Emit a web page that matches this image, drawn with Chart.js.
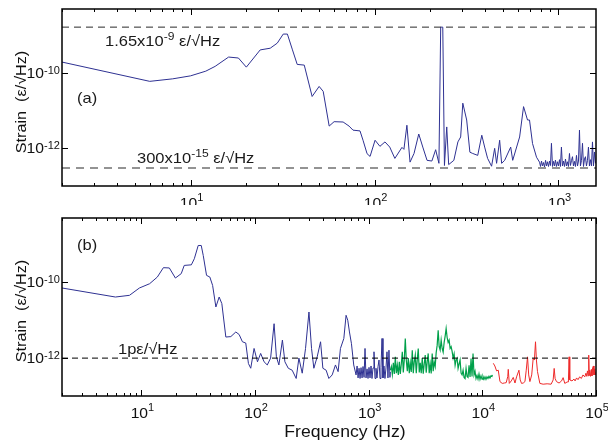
<!DOCTYPE html>
<html>
<head>
<meta charset="utf-8">
<script src="https://cdn.jsdelivr.net/npm/chart.js@4.4.1/dist/chart.umd.min.js"></script>
<style>
  html, body { margin: 0; padding: 0; background: #fff; }
  #wrap { position: relative; width: 608px; height: 442px; }
  canvas { position: absolute; left: 0; }
</style>
</head>
<body>
<div id="wrap">
  <canvas id="panelA" width="608" height="205" style="top:0"></canvas>
  <canvas id="panelB" width="608" height="237" style="top:205px"></canvas>
</div>
<script>
// --- axis ranges / ticks ---
const xRangeA = [2, 1600];
const xRangeB = [2, 100000];
const yRange = [1e-13, 5e-9];
const xTickExpA = [1, 2, 3];
const xTickExpB = [1, 2, 3, 4, 5];
const yTickExp = [-10, -12];

// --- reference levels ---
const levelsA = [1.65e-9, 3e-13];
const levelB = 1e-12;

// --- panel (a) spectrum ---
const freqA = [
  2, 6, 8, 10, 12.1, 13.6, 16.1, 18.2, 20.1, 23.9,
  27.1, 29.6, 31.9, 33.6, 35.7, 38, 41.5, 45.8, 50, 52.6,
  56.7, 60.3, 67.5, 72.7, 76.4, 83.4, 86.6, 91.1, 94.6, 100.7,
  107, 114, 121, 129, 141, 144.5, 150, 156, 164, 174,
  183, 193, 205, 215, 224, 229, 235, 240, 247, 253,
  270, 284, 294, 302, 317, 330, 342, 364, 383, 397,
  412, 433, 450, 461, 479, 491, 510, 550, 564, 615,
  646, 679, 696, 723, 760,
  789, 799, 809, 819, 829, 840, 851, 861, 872, 883,
  894, 905, 916, 928, 940, 951, 963, 975, 988, 1000,
  1013, 1025, 1038, 1051, 1065, 1078, 1092, 1105, 1119, 1133,
  1148, 1162, 1177, 1192, 1207, 1222, 1237, 1253, 1269, 1285,
  1301, 1317, 1334, 1351, 1368, 1385, 1402, 1420, 1438, 1456,
  1474, 1493, 1512, 1531, 1550, 1570, 1590
];
const strainA = [
  1.95e-10, 6.0e-11, 7.0e-11, 8.4e-11, 1.12e-10, 1.5e-10, 2.65e-10, 2.5e-10, 1.43e-10, 4.1e-10,
  4.55e-10, 6.2e-10, 1.08e-9, 1.08e-9, 4.3e-10, 1.69e-10, 1.62e-10, 2.38e-11, 4.4e-11, 3.25e-11,
  3.9e-12, 5.1e-12, 5.0e-12, 3.9e-12, 3.04e-12, 2.9e-12, 1.64e-12, 7.2e-13, 6.1e-13, 1.64e-12,
  1.13e-12, 1.48e-12, 1.08e-12, 5.4e-13, 1.06e-12, 9.4e-13, 4.1e-12, 4.3e-13, 7.3e-13, 2.4e-12,
  1.08e-12, 4.8e-13, 4.6e-13, 9.2e-13, 4.0e-13, 1.65e-9, 1.65e-9, 3.5e-13, 3.7e-12, 3.7e-13,
  4.8e-13, 1.48e-12, 2.0e-12, 1.58e-11, 5.65e-12, 7.9e-13, 7.3e-13, 6.5e-13, 2.23e-12, 1.08e-12,
  5.4e-13, 3.35e-13, 1.0e-12, 4.0e-13, 1.64e-12, 4.0e-13, 4.8e-13, 1.08e-12, 4.8e-13, 2.0e-12,
  1.28e-11, 5.65e-12, 5.65e-12, 1.34e-12, 5.8e-13,
  4.3e-13, 3.3e-13, 4.6e-13, 3.4e-13, 4.2e-13, 3.2e-13, 4.8e-13, 3.4e-13, 4.4e-13, 3.3e-13,
  4.6e-13, 3.5e-13, 1.36e-12, 3.3e-13, 4.5e-13, 3.4e-13, 4.9e-13, 3.3e-13, 4.4e-13, 3.4e-13,
  5.0e-13, 3.3e-13, 1.08e-12, 3.4e-13, 4.6e-13, 3.3e-13, 5.2e-13, 3.4e-13, 4.4e-13, 3.3e-13,
  7.3e-13, 3.5e-13, 4.7e-13, 6.0e-13, 3.4e-13, 4.5e-13, 3.3e-13, 6.5e-13, 3.4e-13, 4.6e-13,
  3.05e-12, 3.4e-13, 4.8e-13, 1.36e-12, 3.3e-13, 5.2e-13, 6.0e-13, 3.4e-13, 4.8e-13, 1.08e-12,
  3.4e-13, 5.0e-13, 3.4e-13, 1.48e-12, 3.4e-13, 8.0e-13, 4.0e-13
];

// --- panel (b) spectrum, three acquisition bands ---
const freqB1 = [
  2, 5.9, 7.85, 9.6, 11.8, 13.8, 15.6, 17.6, 19.9, 22.4,
  23.8, 27.5, 29.2, 31.6, 33.6, 35, 37.4, 40, 42.3, 45.2,
  48.3, 51, 55.3, 61.2, 67.7, 72.4, 77.4, 82.8, 87.4, 91.6,
  98, 105, 112, 120, 128, 137, 147, 154, 162, 174,
  183, 196, 212, 230, 243, 260, 278, 298, 314, 329,
  352, 377, 395, 422, 446, 477, 510, 538, 564, 604,
  632, 654, 677, 705, 738,
  774, 790, 806, 822, 839, 856, 874, 891, 910, 928,
  947, 967, 986, 1006, 1027, 1048, 1069, 1091, 1113, 1136,
  1159, 1183, 1207, 1232, 1257, 1282, 1309, 1335, 1362, 1390,
  1419, 1448, 1477, 1507, 1538, 1550
];
const strainB1 = [
  7.1e-11, 4.1e-11, 4.55e-11, 7.1e-11, 9.2e-11, 1.38e-10, 2.44e-10, 2.4e-10, 1.3e-10, 1.7e-10,
  2.8e-10, 2.9e-10, 4.2e-10, 9.4e-10, 9.4e-10, 5.1e-10, 1.53e-10, 1.38e-10, 8.3e-11, 2.24e-11,
  4.1e-11, 2.75e-11, 3.6e-12, 3.7e-12, 4.9e-12, 4.2e-12, 2.7e-12, 2.5e-12, 7.2e-13, 5.4e-13,
  1.8e-12, 8.0e-13, 1.33e-12, 8.0e-13, 6.6e-13, 1.0e-12, 8.1e-12, 1.08e-12, 6.6e-13, 3.0e-12,
  8.0e-13, 5.4e-13, 4.8e-13, 2.9e-13, 1.0e-12, 4.0e-13, 1.8e-12, 1.65e-11, 1.8e-12, 5.4e-13,
  1.08e-12, 2.7e-12, 5.4e-13, 4.8e-13, 2.9e-13, 3.6e-13, 6.6e-13, 4.4e-13, 1.8e-12, 3.3e-12,
  1.35e-11, 1.0e-11, 4.9e-12, 2.4e-12, 6.6e-13,
  3.6e-13, 6.2e-13, 3.0e-13, 5.4e-13, 2.9e-13, 5.6e-13, 3.0e-13, 6.0e-13, 3.1e-13, 1.8e-12,
  3.0e-13, 5.2e-13, 2.9e-13, 5.7e-13, 3.0e-13, 6.2e-13, 2.9e-13, 5.5e-13, 1.47e-12, 2.9e-13,
  5.4e-13, 3.0e-13, 6.0e-13, 8.9e-13, 2.9e-13, 5.6e-13, 3.3e-12, 3.0e-13, 6.2e-13, 2.9e-13,
  5.5e-13, 1.47e-12, 3.0e-13, 1.62e-12, 3.1e-13, 4.3e-13
];
const freqB2 = [
  1550, 1582, 1614, 1647, 1680, 1715, 1750, 1785, 1822, 1859,
  1897, 1935, 1975, 2015, 2056, 2098, 2141, 2185, 2229, 2275,
  2321, 2368, 2417, 2466, 2516, 2568, 2620, 2673, 2728, 2784,
  2840, 2898, 2957, 3018, 3079, 3142, 3206, 3271, 3338, 3406,
  3476, 3547, 3619, 3693, 3768, 3845, 3923, 4003, 4085, 4168,
  4253, 4340, 4428, 4519, 4611, 4705, 4801, 4899, 4998, 5100,
  5204, 5310, 5419, 5529, 5642, 5757, 5874, 5994, 6116, 6241,
  6368, 6498, 6630, 6766, 6904, 7044, 7188, 7334, 7484, 7636,
  7792, 7951, 8113, 8278, 8447, 8619, 8795, 8975, 9158, 9344,
  9535, 9729, 9928, 10130, 10337, 10548, 10763, 10982, 11206, 11435,
  11668, 11906, 12149, 12250
];
const strainB2 = [
  4.8e-13, 6.0e-13, 3.7e-13, 7.5e-13, 3.8e-13, 1.08e-12, 4.0e-13, 6.5e-13, 3.6e-13, 8.0e-13,
  3.8e-13, 7.0e-13, 1.47e-12, 4.2e-13, 9.0e-13, 3.3e-12, 8.9e-13, 4.5e-13, 1.0e-12, 4.0e-13,
  7.5e-13, 4.3e-13, 1.62e-12, 4.0e-13, 8.0e-13, 1.2e-12, 4.0e-13, 9.0e-13, 1.8e-12, 4.2e-13,
  7.5e-13, 4.0e-13, 1.0e-12, 3.9e-13, 7.0e-13, 1.2e-12, 4.1e-13, 8.0e-13, 1.33e-12, 4.0e-13,
  7.0e-13, 3.95e-13, 1.33e-12, 4.5e-13, 8.0e-13, 6.0e-13, 1.4e-12, 2.2e-12, 5.45e-12, 2.0e-12,
  1.62e-12, 3.0e-12, 1.8e-12, 1.43e-12, 2.6e-12, 3.8e-12, 6.05e-12, 3.5e-12, 2.6e-12, 3.0e-12,
  1.8e-12, 2.0e-12, 1.5e-12, 1.0e-12, 1.3e-12, 6.5e-13, 9.0e-13, 1.0e-12, 5.35e-13, 7.0e-13,
  8.9e-13, 4.0e-13, 3.6e-13, 4.8e-13, 3.1e-13, 2.9e-13, 5.35e-13, 3.3e-13, 3.1e-13, 6.5e-13,
  3.2e-13, 9.8e-13, 3.3e-13, 1.33e-12, 3.6e-13, 4.5e-13, 2.9e-13, 3.5e-13, 2.8e-13, 3.8e-13,
  2.75e-13, 3.4e-13, 2.8e-13, 3.3e-13, 2.75e-13, 3.2e-13, 2.75e-13, 3.2e-13, 2.9e-13, 3.3e-13,
  3.0e-13, 3.4e-13, 3.3e-13, 3.6e-13
];
const freqB3 = [
  12480, 12880, 13340, 13800, 14290, 14960, 15590, 16220, 16740, 16900,
  17260, 17960, 18700, 19370, 20000, 20990, 21530, 22130, 22900, 23700,
  24330, 24970, 25570, 26200, 27180, 28000, 28700, 29360, 29900, 30560,
  32070, 34280, 37150, 40280, 41970, 42850, 43660, 44890, 47320, 49780,
  51380, 53130, 55720, 57150, 57940, 58760, 61510, 64000, 65440, 67500,
  69500, 71800, 74300, 76800, 79600, 81600, 83000, 84100, 85400, 86300,
  87200, 88100, 89500, 91000, 92200, 93300, 94900, 96000, 97500, 98800,
  100000
];
const strainB3 = [
  7.3e-13, 6.2e-13, 4.6e-13, 4.8e-13, 2.4e-13, 2.15e-13, 2.2e-13, 2.25e-13, 3.3e-13, 5.05e-13,
  2.15e-13, 2.5e-13, 3.1e-13, 2.2e-13, 3.2e-13, 4.8e-13, 2.65e-13, 2.15e-13, 2.2e-13, 2.4e-13,
  4.8e-13, 1.08e-12, 3.6e-13, 2.4e-13, 3.6e-13, 9.8e-13, 8.9e-13, 2.7e-12, 8.9e-13, 4.4e-13,
  2.15e-13, 2.05e-13, 2.1e-13, 2.05e-13, 2.65e-13, 5.35e-13, 2.9e-13, 2.4e-13, 2.2e-13, 2.5e-13,
  3.05e-13, 2.15e-13, 2.35e-13, 2.35e-13, 1.08e-12, 2.65e-13, 2.5e-13, 2.8e-13, 2.5e-13, 3.0e-13,
  2.7e-13, 3.2e-13, 2.9e-13, 3.6e-13, 3.2e-13, 4.0e-13, 3.3e-13, 4.6e-13, 3.4e-13, 1.2e-12,
  3.5e-13, 4.8e-13, 3.3e-13, 5.0e-13, 3.4e-13, 5.5e-13, 6.2e-13, 3.6e-13, 5.2e-13, 3.6e-13,
  4.3e-13
];

const FONT = '"Liberation Sans", Arial, Helvetica, sans-serif';
const BLUE = '#2e3192';
const GREEN = '#00a04a';
const RED = '#ee2a2a';

function curve(fs, ss, color, width) {
  return {
    data: fs.map((f, i) => ({ x: f, y: ss[i] })),
    borderColor: color, borderWidth: width,
    pointRadius: 0, tension: 0, fill: false
  };
}

function level(v, range, color, width, dash) {
  return {
    data: [{ x: range[0], y: v }, { x: range[1], y: v }],
    borderColor: color, borderWidth: width, borderDash: dash,
    pointRadius: 0, fill: false
  };
}

// text stretched a little sideways, like the original figure
function stretchText(ctx, str, x, y, size, sx) {
  ctx.save();
  ctx.translate(x, y);
  ctx.scale(sx, 1);
  ctx.font = size + 'px ' + FONT;
  ctx.fillText(str, 0, 0);
  const w = ctx.measureText(str).width * sx;
  ctx.restore();
  return w;
}

function textWidth(ctx, str, size, sx) {
  ctx.font = size + 'px ' + FONT;
  return ctx.measureText(str).width * sx;
}

// pieces: [text, isSuperscript]
function richText(ctx, pieces, x, y, size, supSize, sx) {
  let cx = x;
  pieces.forEach(p => {
    if (p[1]) cx += stretchText(ctx, p[0], cx, y - 6, supSize, sx);
    else cx += stretchText(ctx, p[0], cx, y, size, sx);
  });
}

function decor(cfg) {
  return {
    id: 'decor',
    afterDatasetsDraw(chart) {
      const { ctx, chartArea: a } = chart;
      const x = chart.scales.x, y = chart.scales.y;
      ctx.save();

      // ticks inward
      ctx.strokeStyle = '#000';
      ctx.lineWidth = 1;
      ctx.beginPath();
      const k0 = Math.floor(Math.log10(cfg.xr[0])), k1 = Math.ceil(Math.log10(cfg.xr[1]));
      for (let k = k0; k <= k1; k++) {
        for (let m = 1; m < 10; m++) {
          const v = m * Math.pow(10, k);
          if (v < cfg.xr[0] || v > cfg.xr[1]) continue;
          const px = Math.round(x.getPixelForValue(v)) + 0.5;
          const len = m === 1 ? 6 : 3;
          ctx.moveTo(px, a.bottom); ctx.lineTo(px, a.bottom - len);
          ctx.moveTo(px, a.top); ctx.lineTo(px, a.top + len);
        }
      }
      yTickExp.forEach(e => {
        const py = Math.round(y.getPixelForValue(Math.pow(10, e))) + 0.5;
        ctx.moveTo(a.left, py); ctx.lineTo(a.left + 6, py);
        ctx.moveTo(a.right, py); ctx.lineTo(a.right - 6, py);
      });
      ctx.stroke();

      // frame
      ctx.lineWidth = 1.5;
      ctx.strokeRect(a.left, a.top, a.right - a.left, a.bottom - a.top);

      // tick labels
      ctx.fillStyle = '#111';
      ctx.textBaseline = 'alphabetic';
      ctx.textAlign = 'left';
      cfg.xTicks.forEach(e => {
        const px = x.getPixelForValue(Math.pow(10, e));
        const w1 = textWidth(ctx, '10', 14, 1.12);
        const w2 = textWidth(ctx, String(e), 10.5, 1.05);
        const sx = px - (w1 + w2) / 2 + 1;
        stretchText(ctx, '10', sx, a.bottom + 22, 14, 1.12);
        stretchText(ctx, String(e), sx + w1, a.bottom + 15, 10.5, 1.05);
      });
      yTickExp.forEach(e => {
        const py = y.getPixelForValue(Math.pow(10, e));
        const w1 = textWidth(ctx, '10', 14, 1.12);
        const w2 = textWidth(ctx, String(e), 10.5, 1.05);
        const sx = a.left - 2 - w1 - w2;
        stretchText(ctx, '10', sx, py + 5, 14, 1.12);
        stretchText(ctx, String(e), sx + w1, py + 1, 10.5, 1.05);
      });

      // y axis title
      ctx.save();
      ctx.translate(26, cfg.yTitleY);
      ctx.rotate(-Math.PI / 2);
      ctx.textAlign = 'center';
      ctx.scale(1.08, 1);
      ctx.font = '15px ' + FONT;
      ctx.fillStyle = '#111';
      ctx.fillText('Strain  (ε/√Hz)', 0, 0);
      ctx.restore();

      // annotations
      ctx.fillStyle = '#1a1a1a';
      cfg.notes.forEach(n => richText(ctx, n.pieces, n.x, n.y, 15, 11, 1.1));

      if (cfg.xTitle) {
        ctx.textAlign = 'center';
        ctx.save();
        ctx.translate(cfg.xTitle.x, cfg.xTitle.y);
        ctx.scale(1.1, 1);
        ctx.font = '16px ' + FONT;
        ctx.fillStyle = '#111';
        ctx.fillText('Frequency (Hz)', 0, 0);
        ctx.restore();
      }
      ctx.restore();
    }
  };
}

function baseOptions(xr, pad) {
  return {
    responsive: false,
    animation: false,
    events: [],
    layout: { padding: pad },
    plugins: { legend: { display: false }, tooltip: { enabled: false } },
    scales: {
      x: { type: 'logarithmic', min: xr[0], max: xr[1], display: false },
      y: { type: 'logarithmic', min: yRange[0], max: yRange[1], display: false }
    }
  };
}

new Chart(document.getElementById('panelA'), {
  type: 'line',
  data: {
    datasets: [
      level(levelsA[0], xRangeA, '#2a2a2a', 1, [7, 5]),
      level(levelsA[1], xRangeA, '#707070', 1.5, [8, 6]),
      curve(freqA, strainA, BLUE, 1)
    ]
  },
  options: baseOptions(xRangeA, { left: 62, right: 12, top: 9, bottom: 19 }),
  plugins: [decor({
    xr: xRangeA, xTicks: xTickExpA, yTitleY: 102,
    notes: [
      { pieces: [['(a)', false]], x: 77, y: 103 },
      { pieces: [['1.65x10', false], ['-9', true], [' ε/√Hz', false]], x: 105, y: 46 },
      { pieces: [['300x10', false], ['-15', true], [' ε/√Hz', false]], x: 137, y: 163 }
    ]
  })]
});

new Chart(document.getElementById('panelB'), {
  type: 'line',
  data: {
    datasets: [
      level(levelB, xRangeB, '#000', 1, [6, 4]),
      curve(freqB1, strainB1, BLUE, 1),
      curve(freqB2, strainB2, GREEN, 1.2),
      curve(freqB3, strainB3, RED, 1)
    ]
  },
  options: baseOptions(xRangeB, { left: 62, right: 12, top: 13, bottom: 46 }),
  plugins: [decor({
    xr: xRangeB, xTicks: xTickExpB, yTitleY: 106,
    xTitle: { x: 345, y: 232 },
    notes: [
      { pieces: [['(b)', false]], x: 77, y: 45 },
      { pieces: [['1pε/√Hz', false]], x: 118, y: 149 }
    ]
  })]
});
</script>
</body>
</html>
